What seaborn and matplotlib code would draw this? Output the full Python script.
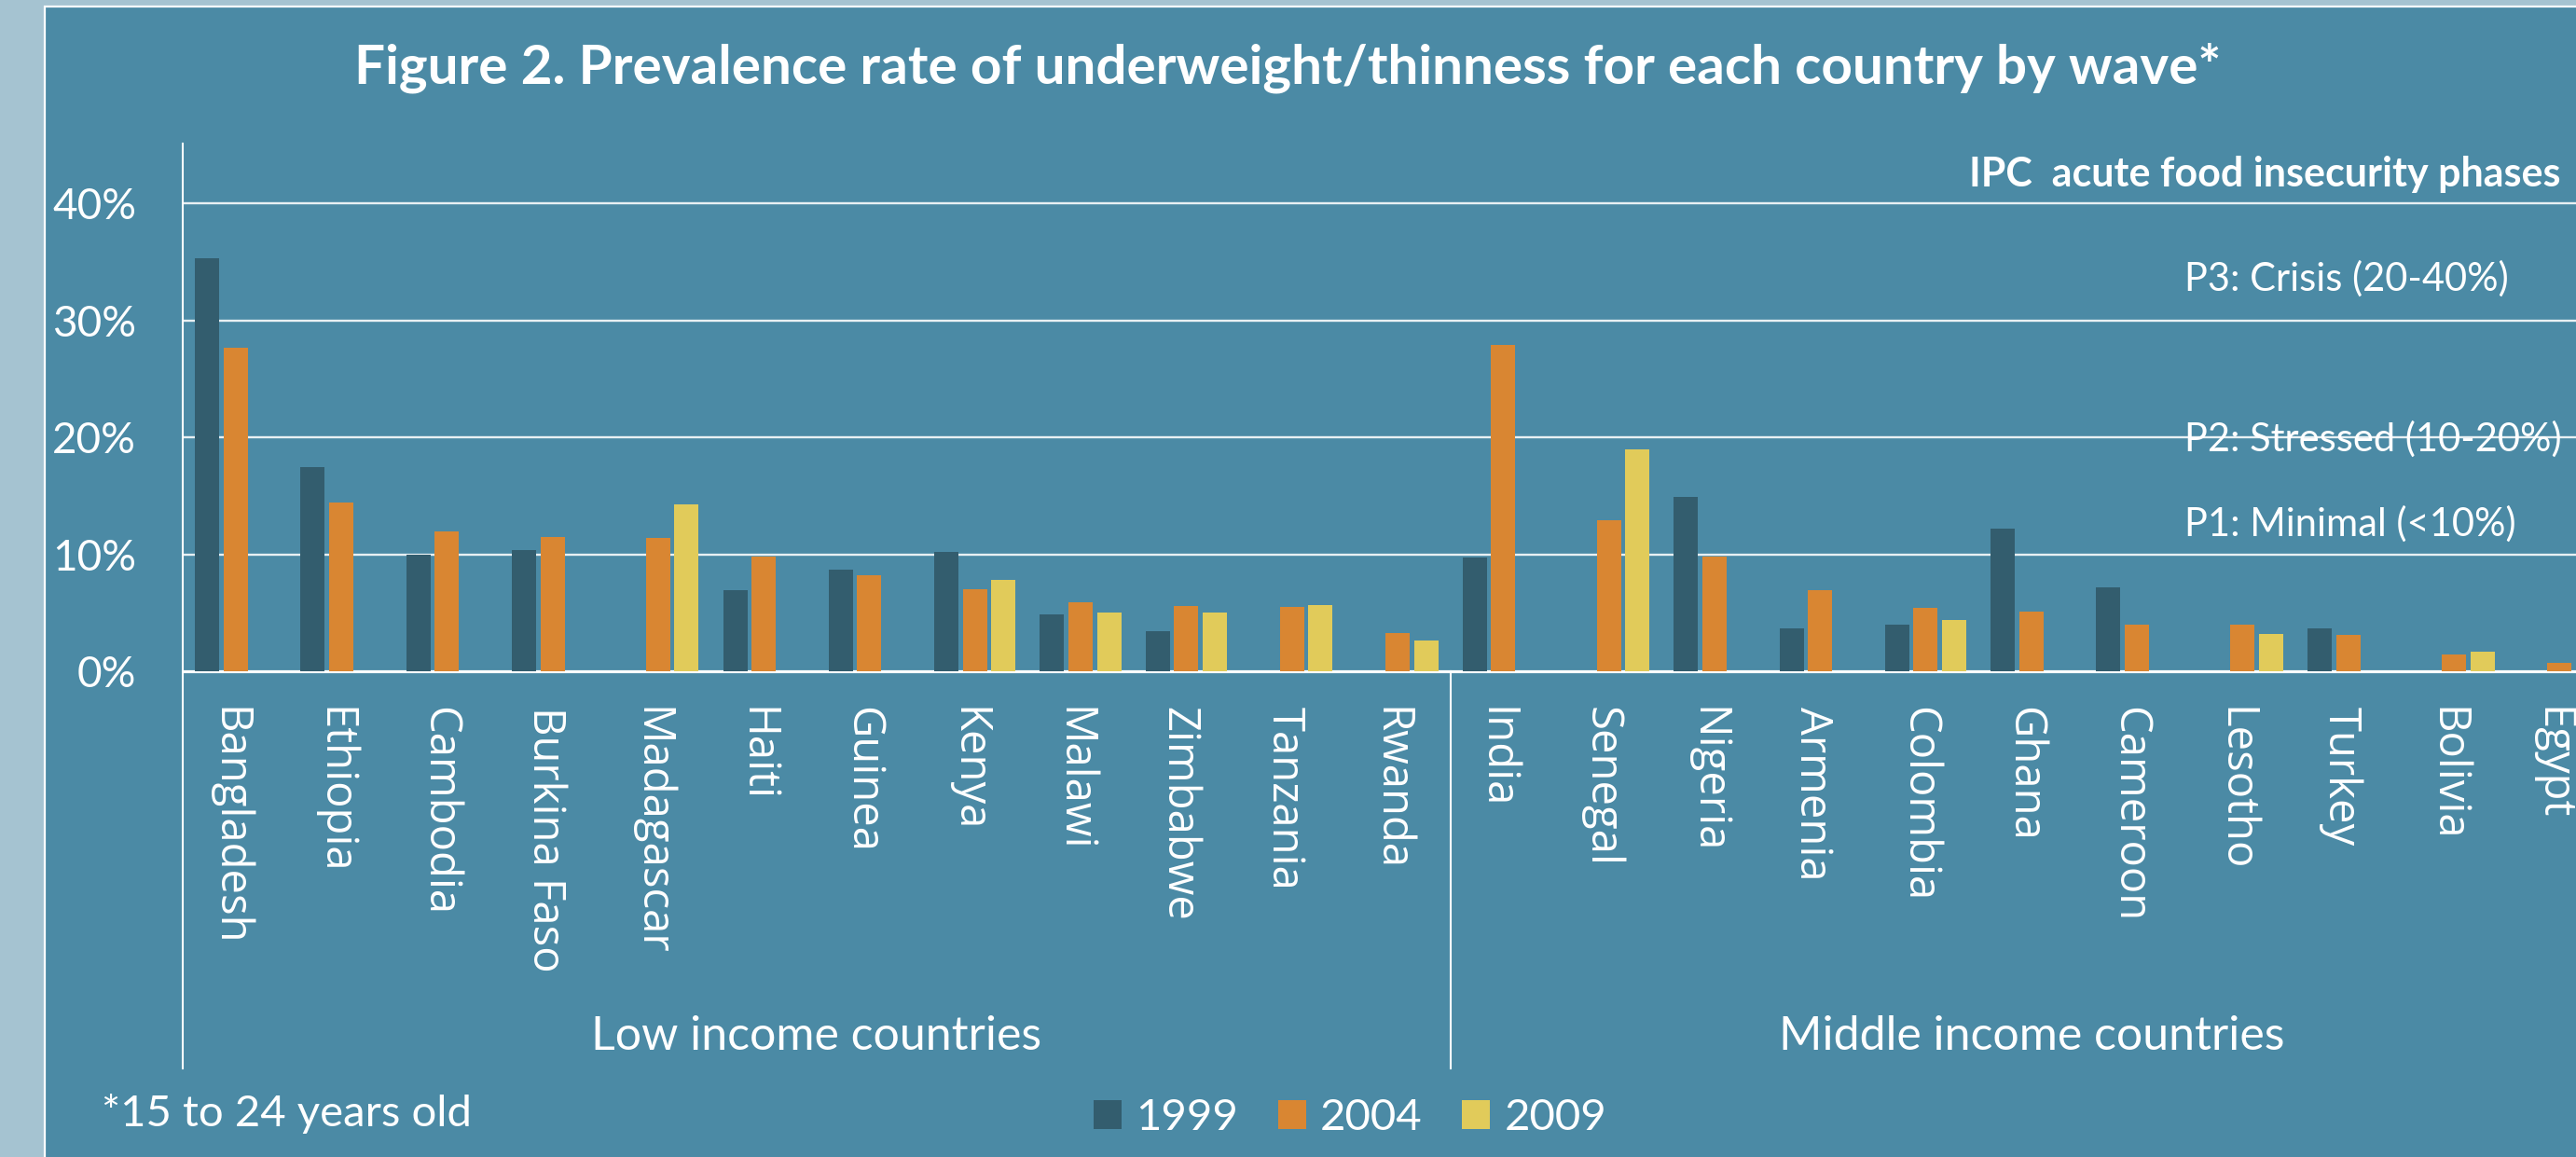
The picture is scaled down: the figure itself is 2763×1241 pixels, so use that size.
import numpy as np
import pandas as pd
import matplotlib
matplotlib.use("Agg")
import matplotlib.pyplot as plt
from matplotlib.patches import Rectangle
import seaborn as sns

# ---------------- data ----------------
countries = ["Bangladesh", "Ethiopia", "Cambodia", "Burkina Faso", "Madagascar", "Haiti",
             "Guinea", "Kenya", "Malawi", "Zimbabwe", "Tanzania", "Rwanda",
             "India", "Senegal", "Nigeria", "Armenia", "Colombia", "Ghana", "Cameroon",
             "Lesotho", "Turkey", "Bolivia", "Egypt"]
years = ["1999", "2004", "2009"]
nan = np.nan
v1999 = [35.3, 17.5, 10.0, 10.4, nan, 6.9, 8.7, 10.2, 4.9, 3.4, nan, nan,
         9.7, nan, 14.9, 3.7, 4.0, 12.2, 7.2, nan, 3.7, nan, nan]
v2004 = [27.7, 14.4, 12.0, 11.5, 11.4, 9.8, 8.2, 7.0, 5.9, 5.6, 5.5, 3.3,
         27.9, 12.9, 9.8, 6.9, 5.4, 5.1, 4.0, 4.0, 3.1, 1.4, 0.7]
v2009 = [nan, nan, nan, nan, 14.3, nan, nan, 7.8, 5.0, 5.0, 5.7, 2.6,
         nan, 19.0, nan, nan, 4.4, nan, nan, 3.2, nan, 1.7, nan]
yticks = [0, 10, 20, 30, 40]
ytick_labels = ["0%", "10%", "20%", "30%", "40%"]
groups = ["Low income countries", "Middle income countries"]
phase_labels = ["P3: Crisis (20-40%)", "P2: Stressed (10-20%)", "P1: Minimal (<10%)"]

df = pd.DataFrame({
    "country": countries * 3,
    "year": [y for y in years for _ in countries],
    "value": v1999 + v2004 + v2009,
})

# ---------------- style ----------------
W, H = 2763, 1241
DPI = 100
outer_bg = "#a5c3d1"
teal = "#4b8aa5"
colors = {"1999": "#335d6e", "2004": "#d98632", "2009": "#e1cb5a"}
plt.rcParams["font.family"] = ["Lato", "DejaVu Sans"]
plt.rcParams["text.color"] = "white"

def fx(px):
    return px / W

def fy(py):
    return 1 - py / H

fig = plt.figure(figsize=(W / DPI, H / DPI), dpi=DPI, facecolor=outer_bg)
frame = Rectangle((fx(48), -0.2), 1.5, fy(7) + 0.2, transform=fig.transFigure,
                  facecolor=teal, edgecolor="white", linewidth=1.6, zorder=-5)
fig.add_artist(frame)

# axes geometry (pixel based)
ax_left, ax_top, ax_bot = 196, 154, 1146
cat_px = 113.3
y0_px, px_per_pct = 720, 12.54
xmax = (W - ax_left) / cat_px - 0.5
ymin = -(ax_bot - y0_px) / px_per_pct
ymax = (y0_px - ax_top) / px_per_pct

ax = fig.add_axes([fx(ax_left), fy(ax_bot), 1 - fx(ax_left), fy(ax_top) - fy(ax_bot)])
ax.set_facecolor("none")

sns.barplot(data=df, x="country", y="value", hue="year", order=countries,
            hue_order=years, palette=colors, width=0.81, gap=0.15,
            errorbar=None, saturation=1, linewidth=0, ax=ax, zorder=3)

ax.set_xlim(-0.5, xmax)
ax.set_ylim(ymin, ymax)

for v in yticks:
    ax.axhline(v, color="#e8f0f3" if v else "white", lw=1.7 if v else 2.3, zorder=1)

for s in ["top", "right", "bottom"]:
    ax.spines[s].set_visible(False)
ax.spines["left"].set_color("white")
ax.spines["left"].set_linewidth(1.5)

ax.set_xticks([])
ax.set_yticks(yticks)
ax.set_yticklabels(ytick_labels, fontsize=33, color="white")
ax.tick_params(axis="y", length=0, pad=36)
ax.set_xlabel("")
ax.set_ylabel("")

# separator between income groups
ax.plot([11.5, 11.5], [ymin, 0], color="white", lw=1.5, clip_on=False, zorder=2)

# category labels
label_top = -(758 - y0_px) / px_per_pct
label_shift = -8 / cat_px
for i, c in enumerate(countries):
    ax.text(i + label_shift, label_top, c, rotation=-90, ha="center", va="top",
            fontsize=34, color="white", family=["Open Sans", "DejaVu Sans"])

# group labels
grp_y = -(1112 - y0_px) / px_per_pct
ax.text(5.5, grp_y, groups[0], ha="center", va="center", fontsize=36, color="white")
ax.text(17.0, grp_y, groups[1], ha="center", va="center", fontsize=36, color="white")

# title and annotations
fig.text(0.5, fy(89), "Figure 2. Prevalence rate of underweight/thinness for each country by wave*",
         ha="center", va="baseline", fontsize=42, fontweight="bold", color="white")
fig.text(fx(2112), fy(200), "IPC  acute food insecurity phases", ha="left", va="baseline",
         fontsize=31, fontweight="bold", color="white")
for lab, base in zip(phase_labels, [312, 484, 575]):
    fig.text(fx(2343), fy(base), lab, ha="left", va="baseline", fontsize=30, color="white")

fig.text(fx(109), fy(1195), "*15 to 24 years old", ha="left", va="center", fontsize=34, color="white")

handles, labels = ax.get_legend_handles_labels()
if ax.get_legend() is not None:
    ax.get_legend().remove()
fig.legend(handles, labels, loc="center", bbox_to_anchor=(fx(1448), fy(1199)), ncol=3,
           frameon=False, fontsize=34, handlelength=0.64, handleheight=0.64,
           handletextpad=0.32, columnspacing=0.9, labelcolor="white", borderaxespad=0)

fig.savefig("out.png", dpi=DPI, facecolor=fig.get_facecolor())
